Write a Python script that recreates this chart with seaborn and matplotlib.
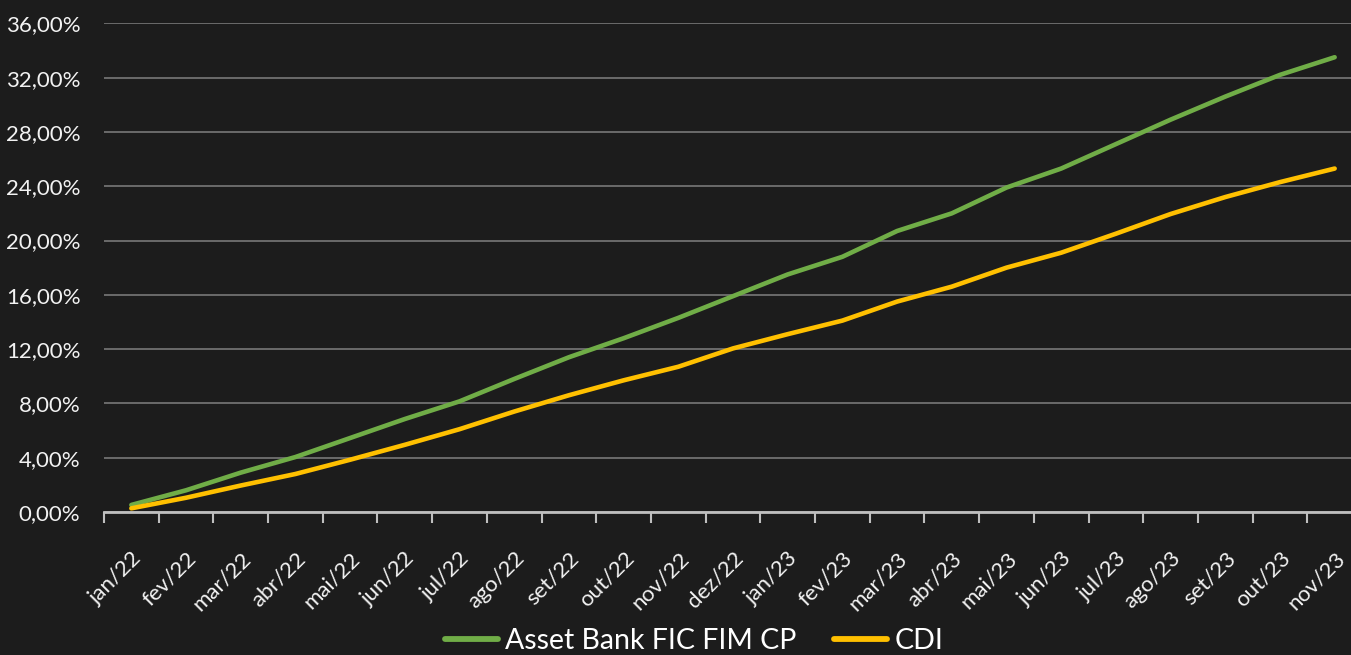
import matplotlib
matplotlib.use('Agg')
import matplotlib.pyplot as plt
import pandas as pd
import seaborn as sns

MONTHS = ['jan/22', 'fev/22', 'mar/22', 'abr/22', 'mai/22', 'jun/22',
          'jul/22', 'ago/22', 'set/22', 'out/22', 'nov/22', 'dez/22',
          'jan/23', 'fev/23', 'mar/23', 'abr/23', 'mai/23', 'jun/23',
          'jul/23', 'ago/23', 'set/23', 'out/23', 'nov/23']
FUND = [0.52, 1.6, 2.9, 4.05, 5.45, 6.85, 8.15, 9.8, 11.4, 12.8, 14.3, 15.9,
        17.5, 18.8, 20.7, 22.0, 23.9, 25.3, 27.1, 28.9, 30.6, 32.2, 33.5]
CDI = [0.27, 1.05, 1.95, 2.8, 3.85, 4.95, 6.1, 7.4, 8.6, 9.7, 10.7, 12.05,
       13.1, 14.1, 15.5, 16.6, 18.0, 19.1, 20.5, 21.95, 23.2, 24.3, 25.3]
SERIES_NAMES = ['Asset Bank FIC FIM CP', 'CDI']
Y_TICKS = list(range(0, 37, 4))

BG = '#1c1c1c'
COLORS = {'Asset Bank FIC FIM CP': '#70ad47', 'CDI': '#ffc000'}

sns.set_theme(style='dark', rc={'figure.facecolor': BG, 'axes.facecolor': BG,
                               'savefig.facecolor': BG})
plt.rcParams['font.family'] = ['Lato', 'DejaVu Sans']

df = pd.DataFrame({'month': MONTHS * 2,
                   'x': list(range(len(MONTHS))) * 2,
                   'value': FUND + CDI,
                   'series': [SERIES_NAMES[0]] * len(MONTHS)
                   + [SERIES_NAMES[1]] * len(MONTHS)})

fig = plt.figure(figsize=(13.51, 6.55), dpi=100)
ax = fig.add_axes([104 / 1351, 143 / 655, 1258 / 1351, 488.7 / 655])
sns.lineplot(data=df, x='x', y='value', hue='series', palette=COLORS,
             linewidth=3.3, ax=ax, legend=False,
             solid_capstyle='round')

ax.set_xlim(-0.5, len(MONTHS) - 0.5)
ax.set_ylim(0, 36)
ax.set_xlabel('')
ax.set_ylabel('')

# tick marks between categories, labels at the centres
ax.set_xticks([i - 0.5 for i in range(len(MONTHS) + 1)])
ax.set_xticklabels([])
ax.set_xticks(range(len(MONTHS)), minor=True)
ax.set_xticklabels(MONTHS, minor=True, rotation=45, ha='right',
                   rotation_mode='anchor', fontsize=16, color='#f2f2f2')
ax.tick_params(axis='x', which='major', length=8, width=1.5,
               color='#bfbfbf', direction='out', bottom=True)
ax.tick_params(axis='x', which='minor', length=0, pad=26)

ax.set_yticks(Y_TICKS)
ax.set_yticklabels(['{0:.2f}%'.format(v).replace('.', ',') for v in Y_TICKS],
                   fontsize=16, color='#f2f2f2')
ax.tick_params(axis='y', length=0, pad=17)

ax.grid(axis='y', color='#808080', linewidth=1.1)
ax.grid(axis='x', visible=False)
ax.set_axisbelow(True)
for side in ['top', 'right', 'left']:
    ax.spines[side].set_visible(False)
ax.spines['bottom'].set_color('#bfbfbf')
ax.spines['bottom'].set_linewidth(2)
ax.spines['bottom'].set_zorder(1)

handles = [plt.Line2D([], [], color=COLORS[n], linewidth=4.2,
                      solid_capstyle='round') for n in SERIES_NAMES]
fig.legend(handles, SERIES_NAMES, loc='center', ncol=2, frameon=False,
           bbox_to_anchor=(694 / 1351, 14 / 655), fontsize=20.5,
           labelcolor='#ffffff', handlelength=1.85, handletextpad=0.25,
           columnspacing=1.35, borderpad=0.1)

fig.savefig('out.png', dpi=100, facecolor=BG)
